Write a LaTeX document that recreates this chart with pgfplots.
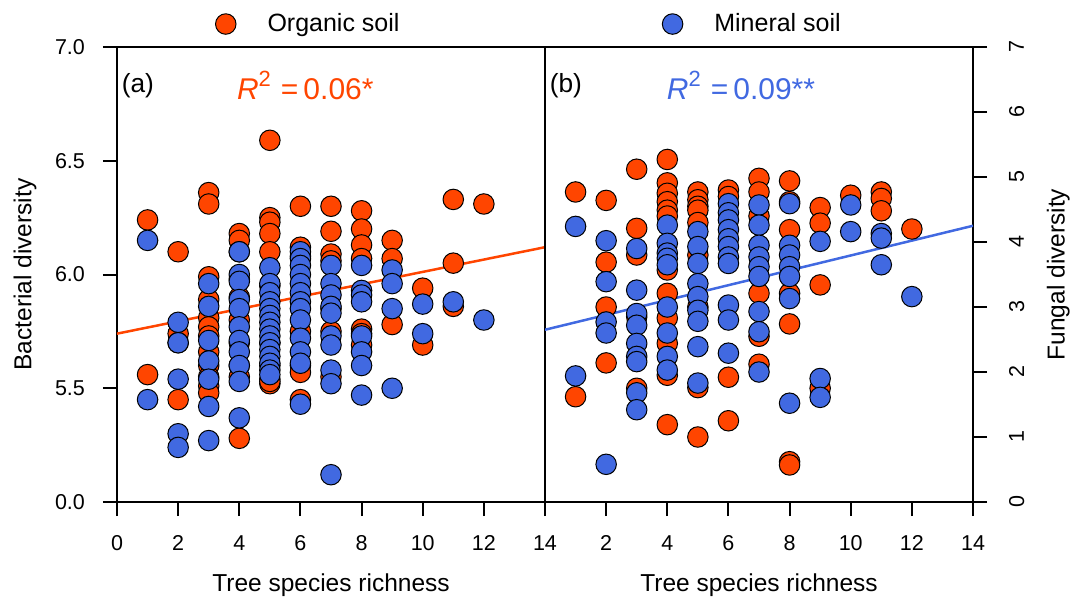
\documentclass[border=0pt]{standalone}
\usepackage{fontspec}
\setmainfont{Liberation Sans}
\usepackage{pgfplots}
\pgfplotsset{compat=1.18}
\definecolor{org}{RGB}{255,69,0}
\definecolor{blu}{RGB}{65,105,225}
\begin{document}
\begin{tikzpicture}
\useasboundingbox (-46.8pt,-41.2pt) rectangle (384.4pt,200.8pt);
\pgfplotsset{
  common/.style={
    scale only axis, width=171.2pt, height=182pt,
    xmin=0, xmax=14,
    axis line style={line width=0.8pt},
    tick align=outside, major tick length=5.6pt,
    tick style={black, line width=0.8pt},
    tick label style={font=\fontsize{8.6}{10}\selectfont},
    every axis x label/.style={at={(axis description cs:0.5,-0.182)}, anchor=center, font=\fontsize{9.8}{11}\selectfont},
    xtick pos=left,
    xticklabel shift=4.4pt,
    legend image code/.code={\draw[mark repeat=2,mark phase=2,##1] plot coordinates {(0pt,0pt)(0pt,0pt)(0pt,0pt)}; \path (-4.1pt,0pt) (14.5pt,0pt);},
    legend style={draw=none, fill=none, inner sep=0pt, outer sep=0pt, font=\fontsize{10}{12}\selectfont, anchor=west},
  },
  pts/.style={only marks, mark=*, mark size=4.1pt, mark options={draw=black, line width=0.4pt, fill=#1}},
}
% ---------------- panel (a) ----------------
\begin{axis}[common, at={(0pt,0pt)}, anchor=south west,
  ymin=5, ymax=7,
  ytick={5,5.5,6,6.5,7}, yticklabels={0.0,5.5,6.0,6.5,7.0},
  xtick={0,2,4,6,8,10,12,14}, xticklabels={0,2,4,6,8,10,12,14},
  ytick pos=left, yticklabel shift=3.7pt,
  xlabel={Tree species richness},
  every axis y label/.style={at={(axis description cs:-0.215,0.5)}, rotate=90, anchor=center, font=\fontsize{9.8}{11}\selectfont},
  ylabel={Bacterial diversity},
  legend style={at={(axis description cs:0.229,1.0505)}},
]
\addplot[pts=org] coordinates {
(1,6.24) (1,5.56)
(2,6.10) (2,5.74) (2,5.70) (2,5.45)
(3,6.36) (3,6.31) (3,5.99) (3,5.89) (3,5.81) (3,5.77) (3,5.73) (3,5.66) (3,5.60) (3,5.55) (3,5.51) (3,5.48)
(4,6.18) (4,6.15) (4,6.10) (4,5.98) (4,5.90) (4,5.80) (4,5.70) (4,5.60) (4,5.55) (4,5.28)
(5,6.59) (5,6.25) (5,6.23) (5,6.18) (5,6.10) (5,5.95) (5,5.70) (5,5.60) (5,5.54) (5,5.52) (5,5.53)
(6,6.30) (6,6.12) (6,6.08) (6,5.75) (6,5.60) (6,5.57) (6,5.45)
(7,6.30) (7,6.19) (7,6.09) (7,6.06) (7,5.85) (7,5.75) (7,5.55)
(8,6.28) (8,6.20) (8,6.13) (8,6.07) (8,5.76) (8,5.74) (8,5.69)
(9,6.15) (9,6.07) (9,5.78)
(10,5.94) (10,5.69)
(11,6.33) (11,6.05) (11,5.86)
(12,6.31)
};
\addlegendentry{Organic soil}
\addplot[pts=blu, forget plot] coordinates {
(1,6.15) (1,5.45)
(2,5.79) (2,5.70) (2,5.54) (2,5.30) (2,5.24)
(3,5.96) (3,5.86) (3,5.71) (3,5.62) (3,5.54) (3,5.42) (3,5.27)
(4,6.10) (4,6.00) (4,5.97) (4,5.89) (4,5.85) (4,5.77) (4,5.71) (4,5.66) (4,5.60) (4,5.53) (4,5.37)
(5,6.03) (5,5.96) (5,5.92) (5,5.88) (5,5.85) (5,5.82) (5,5.79) (5,5.76) (5,5.73) (5,5.70) (5,5.67) (5,5.64) (5,5.61) (5,5.58) (5,5.56)
(6,6.10) (6,6.07) (6,6.04) (6,6.00) (6,5.96) (6,5.92) (6,5.88) (6,5.85) (6,5.80) (6,5.72) (6,5.66) (6,5.61) (6,5.43)
(7,6.04) (7,5.96) (7,5.91) (7,5.86) (7,5.83) (7,5.73) (7,5.69) (7,5.58) (7,5.52) (7,5.12)
(8,6.04) (8,5.93) (8,5.91) (8,5.88) (8,5.73) (8,5.66) (8,5.60) (8,5.47)
(9,6.02) (9,5.96) (9,5.85) (9,5.50)
(10,5.87) (10,5.74)
(11,5.88)
(12,5.80)
};
\addplot[org, line width=1pt, no marks, forget plot] coordinates {(0,5.74) (14,6.12)};
\node[anchor=west, inner sep=0pt, font=\fontsize{10.5}{12}\selectfont] at (axis description cs:0.01,0.916) {(a)};
\node[text=org, font=\fontsize{12}{14}\selectfont] at (axis description cs:0.44,0.916)
  {\textit{R}\raisebox{0.85ex}{\fontsize{8.8}{9}\selectfont 2}\,\,=\,0.06*};
\end{axis}
% ---------------- panel (b) ----------------
\begin{axis}[common, at={(171.2pt,0pt)}, anchor=south west,
  ymin=0, ymax=7,
  ytick={0,1,2,3,4,5,6,7}, yticklabels={0,1,2,3,4,5,6,7},
  xtick={2,4,6,8,10,12,14}, xticklabels={2,4,6,8,10,12,14},
  ytick pos=right, yticklabel shift=5.3pt,
  yticklabel style={rotate=90, anchor=north},
  xlabel={Tree species richness},
  every axis y label/.style={at={(axis description cs:1.199,0.5)}, rotate=90, anchor=center, font=\fontsize{9.8}{11}\selectfont},
  ylabel={Fungal diversity},
  legend style={at={(axis description cs:0.273,1.0505)}},
]
\addplot[pts=org, forget plot] coordinates {
(1,4.77) (1,1.62)
(2,4.64) (2,3.69) (2,3.00) (2,2.14)
(3,5.12) (3,4.21) (3,3.80) (3,2.85) (3,1.75)
(4,5.27) (4,4.91) (4,4.75) (4,4.62) (4,4.49) (4,4.40) (4,3.57) (4,3.21) (4,2.83) (4,2.44) (4,1.95) (4,1.19)
(5,4.77) (5,4.65) (5,4.55) (5,4.49) (5,4.30) (5,3.80) (5,3.00) (5,1.76) (5,1.00)
(6,4.80) (6,4.70) (6,1.92) (6,1.25)
(7,4.98) (7,4.77) (7,4.40) (7,3.21) (7,2.55) (7,2.12)
(8,4.94) (8,4.62) (8,4.19) (8,3.21) (8,2.74) (8,0.62) (8,0.57)
(9,4.53) (9,4.29) (9,3.34) (9,1.75)
(10,4.72)
(11,4.77) (11,4.67) (11,4.48)
(12,4.20)
};
\addplot[pts=blu] coordinates {
(1,4.24) (1,1.94)
(2,4.02) (2,3.39) (2,2.77) (2,2.60) (2,0.58)
(3,3.90) (3,3.26) (3,2.90) (3,2.72) (3,2.44) (3,2.24) (3,2.16) (3,1.68) (3,1.42)
(4,4.26) (4,3.98) (4,3.83) (4,3.75) (4,3.65) (4,3.00) (4,2.60) (4,2.24) (4,2.03)
(5,4.16) (5,3.93) (5,3.67) (5,3.36) (5,3.16) (5,2.95) (5,2.78) (5,2.39) (5,1.83)
(6,4.59) (6,4.45) (6,4.34) (6,4.19) (6,4.05) (6,3.93) (6,3.77) (6,3.67) (6,3.03) (6,2.80) (6,2.29)
(7,4.57) (7,4.26) (7,3.95) (7,3.77) (7,3.62) (7,3.47) (7,2.93) (7,2.62) (7,2.00)
(8,4.59) (8,3.95) (8,3.80) (8,3.62) (8,3.47) (8,3.13) (8,1.52)
(9,4.01) (9,1.90) (9,1.61)
(10,4.57) (10,4.16)
(11,4.13) (11,4.06) (11,3.65)
(12,3.16)
};
\addlegendentry{Mineral soil}
\addplot[blu, line width=1pt, no marks, forget plot] coordinates {(0,2.65) (14,4.25)};
\node[anchor=west, inner sep=0pt, font=\fontsize{10.5}{12}\selectfont] at (axis description cs:0.01,0.916) {(b)};
\node[text=blu, font=\fontsize{12}{14}\selectfont] at (axis description cs:0.458,0.916)
  {\textit{R}\raisebox{0.85ex}{\fontsize{8.8}{9}\selectfont 2}\,\,=\,0.09**};
\end{axis}
\end{tikzpicture}
\end{document}
